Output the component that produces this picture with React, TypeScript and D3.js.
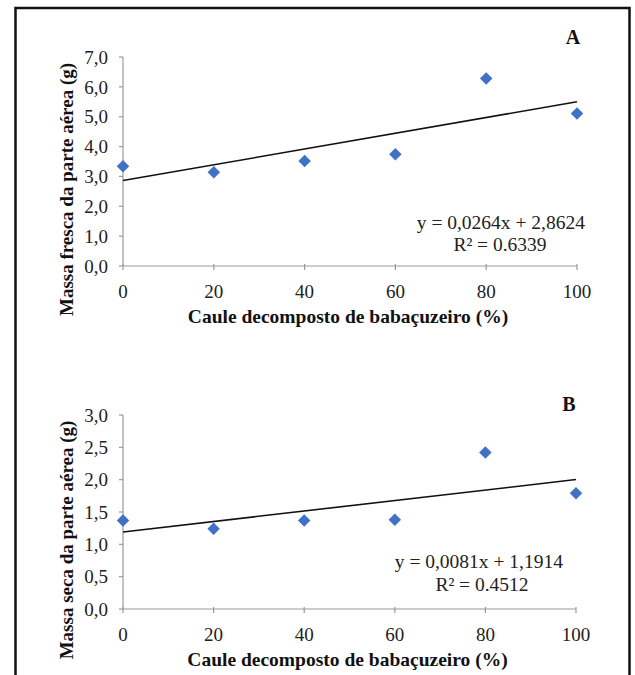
import React from "react";
import * as d3 from "d3";

// treatments (% caule decomposto)
const doses = [0, 20, 40, 60, 80, 100];
const xTicks = [0, 20, 40, 60, 80, 100];

// A: massa fresca da parte aérea (g)
const massaFresca = [3.34, 3.14, 3.52, 3.74, 6.28, 5.11];
const fitA = [0.0264, 2.8624];
const ticksA = [0, 1, 2, 3, 4, 5, 6, 7];
const eqA = ["y = 0,0264x + 2,8624", "R² = 0.6339"];

// B: massa seca da parte aérea (g)
const massaSeca = [1.37, 1.24, 1.37, 1.38, 2.42, 1.79];
const fitB = [0.0081, 1.1914];
const ticksB = [0, 0.5, 1, 1.5, 2, 2.5, 3];
const eqB = ["y = 0,0081x + 1,1914", "R² = 0.4512"];

const FONT = "'Liberation Serif', 'DejaVu Serif', serif";
const BLUE = "#4171c6";
const AXIS = "#9a9a9a";

type PanelProps = {
  values: number[];
  fit: number[];
  yTicks: number[];
  yMax: number;
  xRange: [number, number];
  yRange: [number, number];
  yTitle: string;
  letter: string;
  letterPos: [number, number];
  eq: string[];
  eqPos: [number, number];
  rPos: [number, number];
};

const fmt = (v: number) => v.toFixed(1).replace(".", ",");

function Panel(p: PanelProps) {
  const x = d3.scaleLinear().domain([0, 100]).range(p.xRange);
  const y = d3.scaleLinear().domain([0, p.yMax]).range(p.yRange);
  const x0 = p.xRange[0];
  const y0 = p.yRange[0];
  const line = d3
    .line<number>()
    .x((d) => x(d))
    .y((d) => y(p.fit[0] * d + p.fit[1]));
  // square turned 45deg -> even diamond like excel's marker
  const diamond = d3.symbol(d3.symbolSquare, 78)();
  const midY = (p.yRange[0] + p.yRange[1]) / 2;
  return (
    <g fontFamily={FONT}>
      {/* y axis */}
      <line x1={x0} x2={x0} y1={p.yRange[1]} y2={y0} stroke={AXIS} strokeWidth={1.2} />
      {p.yTicks.map((t) => (
        <g key={"y" + t}>
          <line x1={x0 - 4} x2={x0} y1={y(t)} y2={y(t)} stroke={AXIS} strokeWidth={1.2} />
          <text x={x0 - 15} y={y(t)} dy="0.35em" textAnchor="end" fontSize={19} fill="#222">
            {fmt(t)}
          </text>
        </g>
      ))}
      {/* x axis */}
      <line x1={p.xRange[0]} x2={p.xRange[1]} y1={y0} y2={y0} stroke={AXIS} strokeWidth={1.2} />
      {xTicks.map((t) => (
        <g key={"x" + t}>
          <line x1={x(t)} x2={x(t)} y1={y0 - 2} y2={y0 + 4} stroke={AXIS} strokeWidth={1.2} />
          <text x={x(t)} y={y0 + 32} textAnchor="middle" fontSize={19} fill="#222">
            {t}
          </text>
        </g>
      ))}
      <text
        x={(p.xRange[0] + p.xRange[1]) / 2 - 2}
        y={y0 + 57}
        textAnchor="middle"
        fontSize={19.5}
        fontWeight="bold"
        fill="#111"
      >
        Caule decomposto de babaçuzeiro (%)
      </text>
      <text
        transform={`translate(73,${midY + 28}) rotate(-90)`}
        textAnchor="middle"
        fontSize={19}
        fontWeight="bold"
        fill="#111"
      >
        {p.yTitle}
      </text>
      {/* trend line */}
      <path d={line([0, 100]) ?? ""} fill="none" stroke="#111" strokeWidth={1.6} />
      {/* points */}
      {doses.map((d, i) => (
        <path
          key={"p" + d}
          d={diamond ?? ""}
          transform={`translate(${x(d)},${y(p.values[i])}) rotate(45)`}
          fill={BLUE}
        />
      ))}
      <text x={p.letterPos[0]} y={p.letterPos[1]} textAnchor="middle" fontSize={20} fontWeight="bold" fill="#111">
        {p.letter}
      </text>
      <text x={p.eqPos[0]} y={p.eqPos[1]} textAnchor="end" fontSize={19.5} fill="#222">
        {p.eq[0]}
      </text>
      <text x={p.rPos[0]} y={p.rPos[1]} textAnchor="middle" fontSize={19.5} fill="#222">
        {p.eq[1]}
      </text>
    </g>
  );
}

export default function App() {
  return (
    <svg
      width={635}
      height={675}
      style={{ position: "absolute", left: 0, top: 0, background: "#fff" }}
    >
      <rect x={15.5} y={8} width={614} height={700} fill="none" stroke="#111" strokeWidth={2.5} />
      <Panel
        values={massaFresca}
        fit={fitA}
        yTicks={ticksA}
        yMax={7}
        xRange={[123, 577]}
        yRange={[266, 57]}
        yTitle="Massa fresca da parte aérea (g)"
        letter="A"
        letterPos={[573, 44]}
        eq={eqA}
        eqPos={[585, 229]}
        rPos={[500, 251]}
      />
      <Panel
        values={massaSeca}
        fit={fitB}
        yTicks={ticksB}
        yMax={3}
        xRange={[123, 576]}
        yRange={[609, 415]}
        yTitle="Massa seca da parte aérea (g)"
        letter="B"
        letterPos={[569, 411]}
        eq={eqB}
        eqPos={[563, 568]}
        rPos={[482, 591]}
      />
    </svg>
  );
}
